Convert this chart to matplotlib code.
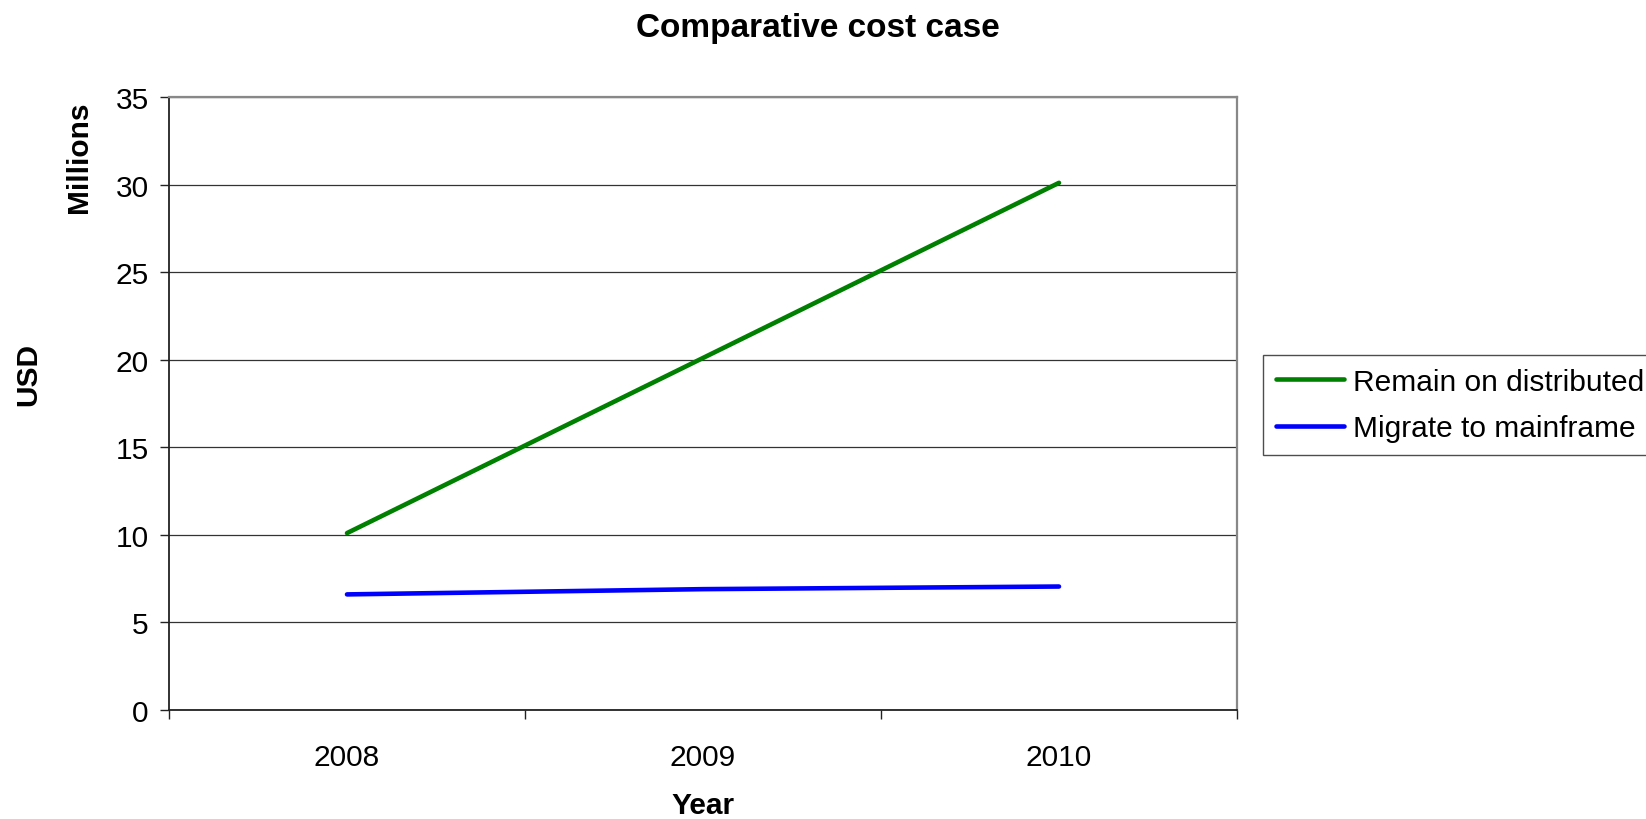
import numpy as np
import matplotlib.pyplot as plt

plt.rcParams['font.family'] = ['Liberation Sans', 'DejaVu Sans']

# data
years = ['2008', '2009', '2010']
remain_distributed = [10.1, 20.1, 30.1]
migrate_mainframe = [6.6, 6.9, 7.05]
y_ticks = [0, 5, 10, 15, 20, 25, 30, 35]

W, H = 1646, 820
fig = plt.figure(figsize=(W / 100, H / 100), dpi=100)
ax = fig.add_axes([169 / W, 1 - 711 / H, (1237 - 169) / W, (711 - 98) / H])

x = np.arange(len(years))
ax.plot(x, remain_distributed, '-', color='#008000', lw=3.3,
        solid_capstyle='round', label='Remain on distributed')
ax.plot(x, migrate_mainframe, '-', color='#0000FF', lw=3.3,
        solid_capstyle='round', label='Migrate to mainframe')

ax.set_xlim(-0.5, len(years) - 0.5)
ax.set_ylim(0, 35)
ax.set_yticks(y_ticks)
ax.set_yticklabels([str(v) for v in y_ticks], fontsize=21.5)

# category labels in the middle, tick marks on the boundaries
ax.set_xticks(x)
ax.set_xticklabels(years, fontsize=21.5)
ax.set_xticks(np.arange(len(years) + 1) - 0.5, minor=True)
ax.tick_params(axis='x', which='major', length=0, pad=24)
ax.tick_params(axis='x', which='minor', length=6.5, width=1, color='#222222',
               direction='out')
ax.tick_params(axis='y', length=6.5, width=1, color='#222222',
               direction='out', pad=8)

ax.grid(axis='y', color='#333333', lw=0.9)
ax.set_axisbelow(True)
for side in ['top', 'right']:
    ax.spines[side].set_color('#888888')
    ax.spines[side].set_linewidth(1.6)
for side in ['left', 'bottom']:
    ax.spines[side].set_color('#222222')
    ax.spines[side].set_linewidth(1.3)

fig.text(818 / W, 1 - 28 / H, 'Comparative cost case', fontsize=24,
         fontweight='bold', ha='center', va='center')
fig.text(703 / W, 1 - 806 / H, 'Year', fontsize=21.5, fontweight='bold',
         ha='center', va='center')
fig.text(28 / W, 1 - 375 / H, 'USD', fontsize=21.5, fontweight='bold',
         ha='center', va='center', rotation=90)
fig.text(79 / W, 1 - 157 / H, 'Millions', fontsize=21.5, fontweight='bold',
         ha='center', va='center', rotation=90)

leg = ax.legend(loc='upper left', bbox_to_anchor=(1263 / W, 1 - 356 / H),
                bbox_transform=fig.transFigure, fontsize=21.5, frameon=True,
                fancybox=False, shadow=False, borderaxespad=0, borderpad=0.42,
                handlelength=2.3, handletextpad=0.3, labelspacing=0.62)
leg.get_frame().set_edgecolor('#222222')
leg.get_frame().set_linewidth(1.0)

fig.savefig('out.png', dpi=100)
